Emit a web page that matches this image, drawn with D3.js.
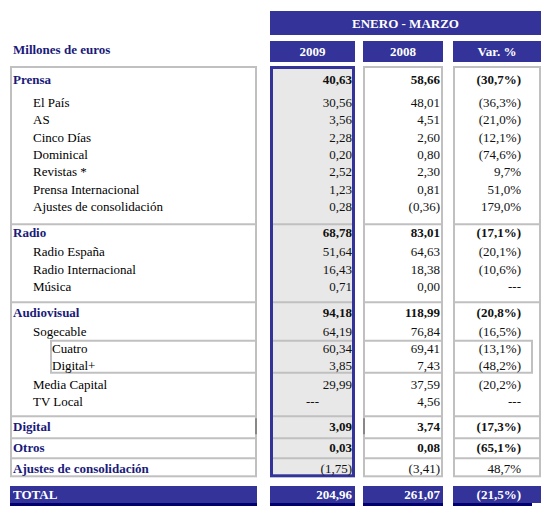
<!DOCTYPE html>
<html><head><meta charset="utf-8">
<script src="https://cdn.jsdelivr.net/npm/d3@7"></script>
<style>
html,body{margin:0;padding:0;background:#fff;}
svg{display:block;}
</style></head>
<body>
<svg id="c" width="551" height="512" font-family="'Liberation Serif', 'Times New Roman', Times, serif"></svg>
<script>
// ---- data ----
const periodTitle = "ENERO - MARZO";
const unitLabel = "Millones de euros";
const columns = ["2009", "2008", "Var. %"];
const rowLabels = ["Prensa","El País","AS","Cinco Días","Dominical","Revistas *","Prensa Internacional","Ajustes de consolidación",
  "Radio","Radio España","Radio Internacional","Música",
  "Audiovisual","Sogecable","Cuatro","Digital+","Media Capital","TV Local",
  "Digital","Otros","Ajustes de consolidación"];
const rowLevels = [0,1,1,1,1,1,1,1, 0,1,1,1, 0,1,2,2,1,1, 0,0,0];
const rowGroups = [0,0,0,0,0,0,0,0, 1,1,1,1, 2,2,2,2,2,2, 3,4,5];
const numBold   = [1,0,0,0,0,0,0,0, 1,0,0,0, 1,0,0,0,0,0, 1,1,0];
const values2009 = [40.63,30.56,3.56,2.28,0.20,2.52,1.23,0.28, 68.78,51.64,16.43,0.71, 94.18,64.19,60.34,3.85,29.99,null, 3.09,0.03,-1.75];
const values2008 = [58.66,48.01,4.51,2.60,0.80,2.30,0.81,-0.36, 83.01,64.63,18.38,0.00, 118.99,76.84,69.41,7.43,37.59,4.56, 3.74,0.08,-3.41];
const varPct     = [-30.7,-36.3,-21.0,-12.1,-74.6,9.7,51.0,179.0, -17.1,-20.1,-10.6,null, -20.8,-16.5,-13.1,-48.2,-20.2,null, -17.3,-65.1,48.7];
const totalLabel = "TOTAL";
const total2009 = 204.96, total2008 = 261.07, totalVar = -21.5;

// ---- formatting ----
const loc = d3.formatLocale({decimal:",", thousands:".", grouping:[3], currency:["","€"]});
const f2 = loc.format(".2f"), f1 = loc.format(".1f");
const fmtNum = v => v == null ? "---" : (v < 0 ? "(" + f2(-v) + ")" : f2(v));
const fmtPct = v => v == null ? "---" : (v < 0 ? "(" + f1(-v) + "%)" : f1(v) + "%");

// ---- layout ----
const BLUE = "#333399", NAVY = "#1a1a7a", GRAY = "#c0c0c0", DARK = "#00006e";
const FONT = "'Liberation Serif', 'Times New Roman', Times, serif";
const svg = d3.select("#c");
const colX = d3.scaleOrdinal().domain(columns).range([[270,355],[363,443],[453,541]]);
const panel = [10, 257];
const tableTop = 66;

const gp = [
  {padTop:18, gap:23, step:17.3, padBottom:13.5},
  {padTop:13, gap:19, step:17.5, padBottom:11},
  {padTop:15, gap:19, step:17, padBottom:10},
  {padTop:15, gap:0, step:0, padBottom:7},
  {padTop:14, gap:0, step:0, padBottom:6},
  {padTop:15, gap:0, step:0, padBottom:4}
];
const rowY = [], groupBounds = [];
let cur = tableTop;
d3.range(gp.length).forEach(g => {
  const idx = rowGroups.map((d,i)=>d===g?i:-1).filter(i=>i>=0);
  const top = cur;
  let y = top + gp[g].padTop;
  idx.forEach((i,k) => {
    if (k === 1) y += gp[g].gap;
    else if (k > 1) y += gp[g].step + (rowLevels[i-1] === 2 && rowLevels[i] !== 2 ? 2 : 0);
    rowY[i] = y;
  });
  cur = y + gp[g].padBottom;
  groupBounds.push([top, cur]);
});
const tableBottom = cur;
const yRow = d3.scaleOrdinal().domain(d3.range(rowLabels.length)).range(rowY);

const txt = (sel) => sel.attr("font-family", FONT).attr("font-size", 13);

// ---- header ----
svg.append("rect").attr("x",270).attr("y",11).attr("width",271).attr("height",24).attr("fill",BLUE);
svg.append("text").call(txt).attr("x",405.5).attr("y",27.5).attr("text-anchor","middle").attr("fill","#fff")
  .attr("font-weight","bold").text(periodTitle);
columns.forEach(c => {
  const [a,b] = colX(c);
  svg.append("rect").attr("x",a).attr("y",41).attr("width",b-a).attr("height",21).attr("fill",BLUE);
  svg.append("text").call(txt).attr("x",(a+b)/2).attr("y",56).attr("text-anchor","middle").attr("fill","#fff")
    .attr("font-weight","bold").text(c);
});
svg.append("text").call(txt).attr("x",13).attr("y",53.5).attr("fill",NAVY).attr("font-weight","bold").text(unitLabel);

// ---- boxes ----
const boxes = [{x0:panel[0],x1:panel[1],stroke:GRAY,sw:2,fill:"#fff"}].concat(
  columns.map((c,i)=>({x0:colX(c)[0],x1:colX(c)[1],stroke:i===0?BLUE:GRAY,sw:i===0?3:2,fill:i===0?"#e8e8e8":"#fff"})));
boxes.forEach(b => svg.append("rect").attr("x",b.x0).attr("y",tableTop).attr("width",b.x1-b.x0)
  .attr("height",tableBottom-tableTop).attr("fill",b.fill));
groupBounds.slice(0,-1).forEach(([t,bt]) => {
  boxes.forEach(b => svg.append("line").attr("x1",b.x0).attr("x2",b.x1).attr("y1",bt).attr("y2",bt)
    .attr("stroke",GRAY).attr("stroke-width",2));
});
const lvl2 = rowLevels.map((l,i)=>l===2?i:-1).filter(i=>i>=0);
const subTop = yRow(lvl2[0]) - 12.5, subBot = yRow(lvl2[lvl2.length-1]) + 2.5;
[[50,panel[1]],colX("2009"),colX("2008"),[colX("Var. %")[0],533]].forEach(([a,b]) => {
  [subTop, subBot].forEach(yy => svg.append("line").attr("x1",a).attr("x2",b).attr("y1",yy).attr("y2",yy)
    .attr("stroke",GRAY).attr("stroke-width",2));
});
svg.append("line").attr("x1",51).attr("x2",51).attr("y1",subTop).attr("y2",subBot).attr("stroke",GRAY).attr("stroke-width",2);
svg.append("line").attr("x1",532).attr("x2",532).attr("y1",subTop).attr("y2",subBot).attr("stroke",GRAY).attr("stroke-width",2);
boxes.forEach(b => svg.append("rect").attr("x",b.x0+b.sw/2).attr("y",tableTop+b.sw/2)
  .attr("width",b.x1-b.x0-b.sw).attr("height",tableBottom-tableTop-b.sw)
  .attr("fill","none").attr("stroke",b.stroke).attr("stroke-width",b.sw));
const dg = groupBounds[3];
svg.append("line").attr("x1",panel[1]-1).attr("x2",panel[1]-1).attr("y1",dg[0]+2).attr("y2",dg[1]-4).attr("stroke","#888").attr("stroke-width",2);
svg.append("line").attr("x1",colX("2008")[0]+1).attr("x2",colX("2008")[0]+1).attr("y1",dg[0]+2).attr("y2",dg[1]-4).attr("stroke","#888").attr("stroke-width",2);

// ---- rows ----
const indent = [13, 33, 52];
const rows = svg.append("g").selectAll("g").data(rowLabels).join("g");
rows.append("text").call(txt).attr("x",(d,i)=>indent[rowLevels[i]]).attr("y",(d,i)=>yRow(i))
  .attr("fill",(d,i)=>rowLevels[i]===0?NAVY:"#000")
  .attr("font-weight",(d,i)=>rowLevels[i]===0?"bold":"normal").text(d=>d);
const valCols = [
  {col:"2009", vals:values2009, fmt:fmtNum},
  {col:"2008", vals:values2008, fmt:fmtNum},
  {col:"Var. %", vals:varPct, fmt:fmtPct}
];
valCols.forEach(vc => {
  const [a,b] = colX(vc.col);
  const isVar = vc.col === "Var. %";
  rows.append("text").call(txt)
    .attr("x",(d,i)=> (vc.vals[i]==null && !isVar) ? (a+b)/2 : (isVar ? 521 : b-3))
    .attr("text-anchor",(d,i)=> (vc.vals[i]==null && !isVar) ? "middle" : "end")
    .attr("y",(d,i)=>yRow(i)).attr("fill","#111")
    .attr("font-weight",(d,i)=>numBold[i]?"bold":"normal")
    .text((d,i)=>vc.fmt(vc.vals[i]));
});

// ---- total ----
const tY0 = 486, tY1 = 503;
[[panel[0],panel[1],panel[1]],[colX("2009")[0],colX("2009")[1],colX("2009")[1]],
 [colX("2008")[0],colX("2008")[1],colX("2008")[1]],[colX("Var. %")[0],colX("Var. %")[1],532]].forEach(([a,b,dl]) => {
  svg.append("rect").attr("x",a).attr("y",tY0).attr("width",b-a).attr("height",tY1-tY0).attr("fill",BLUE);
  svg.append("rect").attr("x",a).attr("y",tY1).attr("width",dl-a).attr("height",3).attr("fill",DARK);
});
svg.append("text").call(txt).attr("x",13).attr("y",499).attr("fill","#fff").attr("font-weight","bold").text(totalLabel);
svg.append("text").call(txt).attr("x",colX("2009")[1]-3).attr("y",499).attr("text-anchor","end").attr("fill","#fff").attr("font-weight","bold").text(fmtNum(total2009));
svg.append("text").call(txt).attr("x",colX("2008")[1]-3).attr("y",499).attr("text-anchor","end").attr("fill","#fff").attr("font-weight","bold").text(fmtNum(total2008));
svg.append("text").call(txt).attr("x",521).attr("y",499).attr("text-anchor","end").attr("fill","#fff").attr("font-weight","bold").text(fmtPct(totalVar));
</script>
</body></html>
